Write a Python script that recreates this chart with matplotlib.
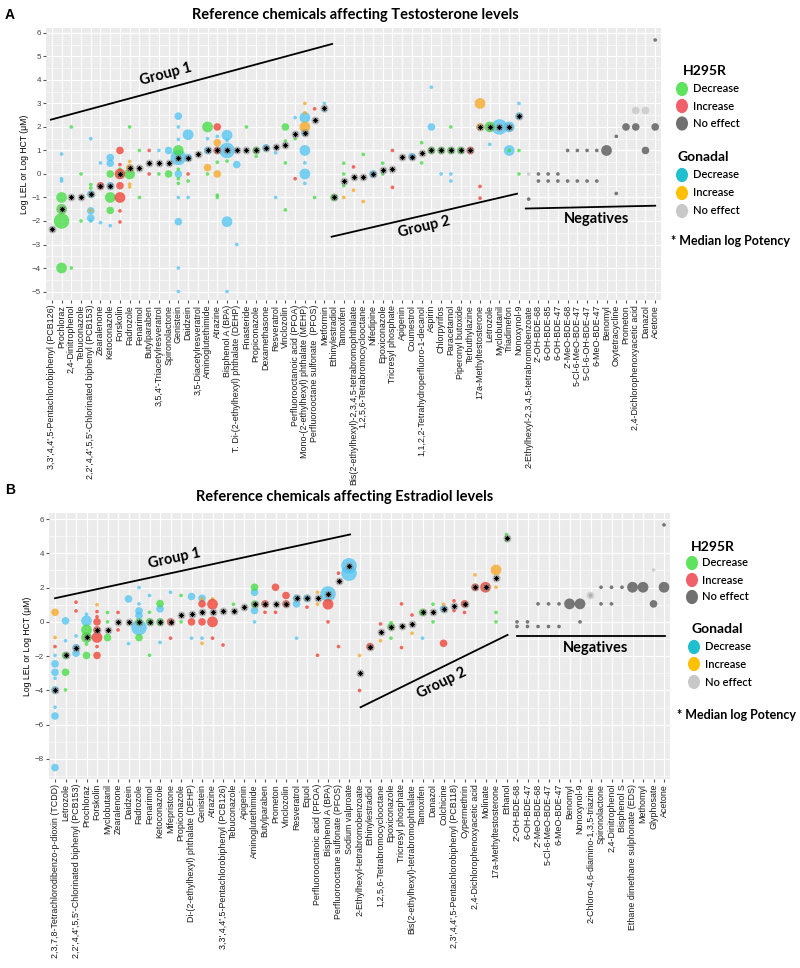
import matplotlib.pyplot as plt
from matplotlib.ticker import MultipleLocator

plt.rcParams['font.family'] = ['Liberation Sans', 'DejaVu Sans']
TITLE_FONT = ['Lato', 'DejaVu Sans']

# ---------------- data: panel A (testosterone) ----------------
a_chemicals = [
    "3,3',4,4',5-Pentachlorobiphenyl (PCB126)", "Prochloraz", "2,4-Dinitrophenol", "Tebuconazole",
    "2,2',4,4',5,5'-Chlorinated biphenyl (PCB153)", "Zearalenone", "Ketoconazole", "Forskolin",
    "Fadrozole", "Fenarimol", "Butylparaben", "3,5,4'-Triacetylresveratrol", "Spironolactone",
    "Genistein", "Daidzein", "3,5-Diacetylresveratrol", "Aminoglutethimide", "Atrazine",
    "Bisphenol A (BPA)", "T. Di-(2-ethylhexyl) phthalate (DEHP)", "Finasteride", "Propiconazole",
    "Dexamethasone", "Resveratrol", "Vinclozolin", "Perfluorooctanoic acid (PFOA)",
    "Mono-(2-ethylhexyl) phthalate (MEHP)", "Perfluorooctane sulfonate  (PFOS)", "Metformin",
    "Ethinylestradiol", "Tamoxifen", "Bis(2-ethylhexyl)-2,3,4,5-tetrabromophthalate",
    "1,2,5,6-Tetrabromocyclooctane", "Nifedipine", "Epoxiconazole", "Tricresyl phosphate",
    "Apigenin", "Coumestrol", "1,1,2,2-Tetrahydroperfluoro-1-decanol", "Aspirin", "Chlorpyrifos",
    "Paracetamol", "Piperonyl butoxide", "Terbuthylazine", "17a-Methyltestosterone", "Letrozole",
    "Myclobutanil", "Triadimefon", "Nonoxynol-9", "2-Ethylhexyl-2,3,4,5-tetrabromobenzoate",
    "2'-OH-BDE-68", "6-OH-BDE-85", "6-OH-BDE-47", "2'-MeO-BDE-68", "5-Cl-6-MeO-BDE-47",
    "5-Cl-6-OH-BDE-47", "6-MeO-BDE-47", "Benomyl", "Oxytetracycline", "Prometon",
    "2,4-Dichlorophenoxyacetic acid", "Danazol", "Acetone",
]

# (chemical position, log value, size class)
a_h295r_dec = [
    (2, -2, 4), (2, -1.5, 3), (2, -1, 3), (2, -4, 3), (3, 2, 1), (3, -4, 1), (4, 0, 1), (4, -2, 1),
    (5, -0.45, 1), (5, -0.6, 1), (7, 0, 2), (7, -1, 3), (7, -1.55, 2), (8, 0.2, 1), (9, 2, 1),
    (9, 0, 3), (10, 1, 1), (10, -1, 1), (12, 0, 1), (13, 0, 2), (14, 1, 3), (14, 0.2, 1),
    (14, -0.2, 1), (14, -0.4, 1), (15, -0.3, 1), (17, 2, 3), (17, 0, 1), (18, 0.5, 1),
    (18, -0.9, 1), (18, -1, 1), (19, 0.55, 1), (21, 2, 1), (22, 1, 2), (22, 0.75, 1),
    (25, 2, 2), (25, 1.4, 1), (25, 0.47, 1), (25, -1.53, 1), (26, 1.5, 1), (28, -1, 1),
    (30, -1, 2), (31, 0.46, 1), (31, 0, 1), (31, -0.5, 1), (33, 0.83, 1), (35, 0.46, 1),
    (35, 0, 1), (39, 1.33, 1), (39, 0.47, 1), (40, 1, 2), (41, 1, 2), (42, 1, 2), (42, 2, 1),
    (43, 1, 2), (46, 2, 3), (48, 1, 1), (49, 1, 1), (49, 0, 1),
]
a_h295r_inc = [
    (6, -0.5, 2), (8, 1, 2), (8, 0.4, 1), (8, 0, 3), (8, -0.5, 2), (8, -1, 3), (8, -1.57, 1),
    (8, -2.04, 1), (11, 1, 1), (11, 0, 1), (15, 0, 1), (18, 1, 2), (18, 2, 2), (26, -0.2, 1),
    (28, 2.77, 1), (32, 0.3, 1), (36, 1, 1), (36, -0.57, 1), (44, 1, 2), (45, -0.53, 1),
    (45, -1.03, 1),
]
a_h295r_none = [
    (50, -1.07, 1), (51, 0, 1), (51, -0.3, 1), (52, 0, 1), (52, -0.3, 1), (53, 0, 1),
    (53, -0.3, 1), (54, 1, 1), (54, -0.3, 1), (55, 1, 1), (55, -0.3, 1), (56, 1, 1),
    (56, -0.3, 1), (57, 1, 1), (57, -0.3, 1), (58, 1, 3), (59, 1.6, 1), (59, -0.83, 1),
    (60, 2, 2), (61, 2, 2), (62, 1, 2), (63, 2, 2), (63, 5.7, 1),
]
a_gonadal_dec = [
    (2, 0.85, 1), (2, -0.2, 1), (2, -0.3, 1), (5, 1.5, 1), (5, -0.86, 2), (5, -1.57, 2),
    (5, -1.88, 2), (5, -2.0, 1), (6, 0.47, 1), (6, -2.07, 1), (7, 0.7, 2), (7, 0.46, 2),
    (7, -0.5, 2), (7, -2.2, 1), (12, 1, 1), (13, 1, 2), (14, 0.7, 4), (14, 2.46, 2), (14, 2, 1),
    (14, 1.47, 1), (14, 0, 2), (14, -2.03, 2), (14, -1, 1), (14, -4, 1), (14, -5, 1),
    (15, 0.7, 2), (15, 1.67, 3), (15, -1, 1), (17, 1, 2), (17, 1.5, 1), (18, 1.6, 1),
    (19, 1, 4), (19, 1.65, 3), (19, -2.03, 3), (19, 1.43, 1), (19, -5, 1), (20, 0.4, 2),
    (20, -3, 1), (23, 1.11, 2), (24, 0.9, 1), (24, -1, 1), (26, 2.4, 1), (27, 2.4, 3),
    (27, 1.76, 2), (27, 1, 3), (27, 0, 3), (27, -0.4, 1), (27, 0.47, 1), (29, 3.0, 1),
    (29, 2.7, 1), (34, 0, 2), (38, 0.74, 2), (40, 3.69, 1), (40, 2.0, 2), (41, 0, 1),
    (42, 0, 1), (42, -0.3, 1), (46, 1.26, 1), (47, 2, 4), (48, 2, 3), (48, 1, 3),
    (49, 2.46, 2), (49, 3, 1),
]
a_gonadal_inc = [
    (5, -1.55, 1), (8, 0, 2), (9, 0.53, 1), (9, 0.26, 2), (9, -0.43, 1), (9, -0.55, 1),
    (17, 0.27, 2), (18, 1.33, 2), (18, 0, 2), (27, 2, 3), (27, 3, 1), (27, 2.6, 1),
    (31, -1, 1), (32, -0.69, 1), (33, -1.17, 1), (45, 2, 2), (45, 3, 3),
]
a_gonadal_none = [(50, 0, 1), (61, 2.7, 2), (62, 2.7, 2)]
a_median = [
    -2.35, -1.5, -1.0, -1.0, -0.86, -0.53, -0.5, 0, 0.26, 0.26, 0.46, 0.46, 0.46, 0.69, 0.7,
    0.83, 1.0, 1.0, 1.0, 1.0, 1.0, 1.0, 1.11, 1.13, 1.22, 1.7, 1.76, 2.29, 2.82, -1.0, -0.28,
    -0.15, -0.14, 0, 0.17, 0.21, 0.71, 0.74, 0.89, 1.0, 1.0, 1.0, 1.0, 1.03, 2.0, 2.0, 2.0,
    2.0, 2.46,
]

# ---------------- data: panel B (estradiol) ----------------
b_chemicals = [
    "2,3,7,8-Tetrachlorodibenzo-p-dioxin (TCDD)", "Letrozole",
    "2,2',4,4',5,5'-Chlorinated biphenyl (PCB153)", "Prochloraz", "Forskolin", "Myclobutanil",
    "Zearalenone", "Daidzein", "Fadrozole", "Fenarimol", "Ketoconazole", "Mifepristone",
    "Propiconazole", "Di-(2-ethylhexyl) phthalate (DEHP)", "Genistein", "Atrazine",
    "3,3',4,4',5-Pentachlorobiphenyl (PCB126)", "Tebuconazole", "Apigenin", "Aminoglutethimide",
    "Butylparaben", "Prometon", "Vinclozolin", "Resveratrol", "Equol",
    "Perfluorooctanoic acid (PFOA)", "Bisphenol A (BPA)", "Perfluorooctane sulfonate (PFOS)",
    "Sodium valproate", "2-Ethylhexyl-tetrabromobenzoate", "Ethinylestradiol",
    "1,2,5,6-Tetrabromocyclooctane", "Epoxiconazole", "Tricresyl phosphate",
    "Bis(2-ethylhexyl)-tetrabromophthalate", "Tamoxifen", "Danazol", "Colchicine",
    "2,3',4,4',5-Pentachlorobiphenyl (PCB118)", "Cypermethrin", "2,4-Dichlorophenoxyacetic acid",
    "Molinate", "17a-Methyltestosterone", "Ethanol", "2'-OH-BDE-68", "6-OH-BDE-47",
    "2'-MeO-BDE-68", "5-Cl-6-MeO-BDE-47", "6-MeO-BDE-47", "Benomyl", "Nonoxynol-9",
    "2-Chloro-4,6-diamino-1,3,5-triazine", "Spironolactone", "2,4-Dinitrophenol", "Bisphenol S",
    "Ethane dimethane sulphonate (EDS)", "Methomyl", "Glyphosate", "Acetone",
]
b_h295r_dec = [
    (2, -1.96, 2), (2, -2.94, 2), (2, -3.97, 1), (4, -0.47, 3), (4, -0.91, 3), (4, -1.96, 2),
    (4, -1.3, 1), (6, 0.55, 1), (6, 0, 1), (6, -0.92, 2), (9, 0, 2), (9, -0.92, 2),
    (10, 0.56, 1), (10, 0, 2), (10, -1.95, 1), (11, 1.07, 2), (11, 0, 2), (11, -0.14, 1),
    (13, 1.54, 1), (13, 0, 1), (18, 1.03, 1), (20, 2.02, 2), (20, 1.03, 2), (33, -0.05, 1),
    (33, -0.28, 2), (33, -0.95, 1), (36, 0.55, 2), (37, 1.03, 1), (37, 0, 1), (43, 0.55, 1),
    (43, 0, 1), (44, 5.1, 1), (44, 4.92, 1), (44, 4.75, 1),
]
b_h295r_inc = [
    (1, -1.44, 1), (3, 1.15, 1), (3, 0.64, 1), (5, 0.6, 1), (5, 0.3, 1), (5, 0, 2),
    (5, -0.47, 2), (5, -0.91, 3), (5, -1.44, 1), (5, -1.96, 2), (7, 0.55, 1), (7, -0.47, 1),
    (12, 0, 2), (12, -0.95, 1), (14, 0, 2), (15, 1.05, 2), (15, 0, 2), (16, 1.03, 3),
    (16, 0, 3), (16, -0.95, 1), (17, -1.35, 1), (21, 1.05, 2), (21, 0.56, 1), (22, 2.02, 2),
    (22, 0.56, 1), (23, 1.54, 2), (23, 1.05, 2), (25, 0.86, 1), (26, -1.95, 1), (27, 1.03, 3),
    (27, 0, 1), (28, 2.84, 1), (28, -1.44, 1), (30, -4.0, 1), (31, -1.44, 2), (32, -0.12, 1),
    (34, 1.05, 1), (34, -1.5, 1), (35, 0.4, 1), (38, -1.25, 2), (39, 1.23, 1), (39, 0.66, 1),
    (40, 1.05, 2), (40, 0.55, 1), (41, 2.02, 2), (42, 2.02, 3),
]
b_h295r_none = [
    (45, 0, 1), (45, -0.27, 1), (46, 0, 1), (46, -0.27, 1), (47, 1.05, 1), (47, -0.27, 1),
    (48, 1.05, 1), (48, -0.27, 1), (49, 1.05, 1), (49, -0.27, 1), (50, 1.05, 3), (51, 1.05, 3),
    (51, 0, 1), (52, 1.54, 1), (53, 2.02, 1), (53, 1.05, 1), (54, 2.02, 1), (54, 1.05, 1),
    (55, 2.02, 1), (56, 2.02, 3), (57, 2.02, 3), (58, 1.05, 2), (59, 2.02, 3), (59, 5.66, 1),
]
b_gonadal_dec = [
    (1, -1.96, 1), (1, -2.45, 2), (1, -2.94, 2), (1, -3.29, 1), (1, -3.97, 2), (1, -4.98, 1),
    (1, -5.49, 2), (1, -8.5, 2), (2, 0.06, 2), (2, -1.1, 1), (3, -0.82, 1), (3, -1.5, 2),
    (3, -1.83, 2), (4, 0.06, 3), (4, 0.45, 1), (8, 1.34, 2), (8, -1.27, 1), (9, 2.0, 1),
    (9, 1.05, 1), (9, 0.64, 2), (9, 0.37, 2), (9, -0.33, 4), (10, 1.54, 1), (11, 0.76, 2),
    (11, -1.2, 1), (12, 1.73, 1), (14, 1.48, 2), (14, -0.95, 1), (15, 1.38, 2),
    (15, -0.95, 1), (20, 1.73, 2), (20, 0.66, 2), (20, 0, 1), (24, 1.38, 2), (24, 1.05, 2),
    (24, -0.95, 1), (25, 1.38, 2), (27, 1.63, 4), (29, 3.27, 4), (29, 2.84, 4),
    (36, -0.95, 1), (38, 0.76, 2),
]
b_gonadal_inc = [
    (1, 0.56, 2), (1, -0.91, 1), (5, 1.0, 1), (15, 1.34, 1), (15, -1.25, 1), (16, 1.34, 1),
    (26, 1.73, 1), (26, 1.03, 1), (30, -1.96, 1), (32, -1.1, 1), (35, -0.66, 1), (38, 1.03, 1),
    (41, 2.74, 1), (43, 3.03, 3), (43, 2.02, 1),
]
b_gonadal_none = [(52, 1.54, 2), (58, 3.03, 1)]
b_median = [
    -3.97, -1.96, -1.5, -0.91, -0.47, -0.47, 0, 0, 0, 0, 0, 0, 0.4, 0.46, 0.55, 0.55, 0.66,
    0.66, 0.86, 1.03, 1.05, 1.05, 1.05, 1.38, 1.38, 1.38, 1.63, 2.39, 3.27, -3.0, -1.44, -0.6,
    -0.27, -0.23, -0.12, 0.55, 0.55, 0.76, 0.9, 1.05, 2.02, 2.02, 2.55, 4.92,
]

SIZES = {1: 7, 2: 30, 3: 60, 4: 125}
COLORS = {'h_dec': '#3fdc3f', 'h_inc': '#f03a2c', 'h_none': '#4d4d4d',
          'g_dec': '#4dc3f2', 'g_inc': '#f7a51c', 'g_none': '#c4c4c4'}
LEGEND_COLORS = ['#5ee35e', '#f0606a', '#707070', '#1fbfcf', '#ffc000', '#c8c8c8']


def draw_panel(ax, chemicals, series, medians, ylim, ymajor):
    n = len(chemicals)
    ax.set_facecolor('#EBEBEB')
    ax.set_xlim(0.4, n + 0.6)
    ax.set_ylim(*ylim)
    ax.set_xticks(range(1, n + 1))
    ax.set_xticklabels(chemicals, rotation=90, fontsize=6.4, color='#1a1a1a')
    ax.yaxis.set_major_locator(MultipleLocator(ymajor))
    ax.yaxis.set_minor_locator(MultipleLocator(ymajor / 2))
    ax.grid(which='major', color='white', lw=0.8)
    ax.grid(which='minor', axis='y', color='white', lw=0.4)
    ax.set_axisbelow(True)
    for s in ax.spines.values():
        s.set_visible(False)
    ax.tick_params(axis='both', length=2, color='#555555', pad=1.5)
    ax.tick_params(axis='y', labelsize=5.8, labelcolor='#444444')
    ax.tick_params(which='minor', length=0)
    ax.set_ylabel("Log LEL or Log HCT (\u03bcM)", fontsize=6.2, labelpad=2)

    for pts, key in series:
        ax.scatter([p[0] for p in pts], [p[1] for p in pts],
                   s=[SIZES[p[2]] for p in pts], color=COLORS[key],
                   alpha=0.75, lw=0, zorder=3)

    mx = range(1, len(medians) + 1)
    ax.scatter(mx, medians, s=34, color='#8c8c8c', alpha=0.5, lw=0, zorder=4)
    ax.scatter(mx, medians, s=11, marker=(8, 2, 0), color='black', lw=0.5, zorder=5)


def annotate(ax, x0, y0, x1, y1, label, tx, ty, rot):
    ax.plot([x0, x1], [y0, y1], color='black', lw=1.3, zorder=6)
    ax.text(tx, ty, label, rotation=rot, rotation_mode='anchor', ha='center', va='center',
            fontsize=10.5, fontweight='bold', family=TITLE_FONT, zorder=6)


def draw_legend(fig, x_head, y_head, x_dot, x_txt, ys, x_head2, y_head2, x_dot2, x_txt2, ys2,
                x_med, y_med):
    W, H = 800.0, 968.0
    kw = dict(family=TITLE_FONT, va='center')
    fig.text(x_head / W, 1 - y_head / H, 'H295R', fontsize=10, fontweight='bold', **kw)
    fig.text(x_head2 / W, 1 - y_head2 / H, 'Gonadal', fontsize=10, fontweight='bold', **kw)
    labels = ['Decrease', 'Increase', 'No effect']
    for k in range(3):
        fig.patches.append(plt.Circle((x_dot / W, 1 - ys[k] / H), 5.3 / W,
                                      transform=fig.transFigure, color=LEGEND_COLORS[k],
                                      figure=fig))
        fig.text(x_txt / W, 1 - ys[k] / H, labels[k], fontsize=8, fontweight='semibold', **kw)
        fig.patches.append(plt.Circle((x_dot2 / W, 1 - ys2[k] / H), 5.3 / W,
                                      transform=fig.transFigure, color=LEGEND_COLORS[k + 3],
                                      figure=fig))
        fig.text(x_txt2 / W, 1 - ys2[k] / H, labels[k], fontsize=8, fontweight='semibold', **kw)
    fig.text(x_med / W, 1 - y_med / H, '* Median log Potency', fontsize=9,
             fontweight='bold', **kw)


fig = plt.figure(figsize=(8, 9.68), dpi=100)

ax1 = fig.add_axes([0.0575, 0.6901, 0.7688, 0.2810])
draw_panel(ax1, a_chemicals,
           [(a_h295r_none, 'h_none'), (a_gonadal_none, 'g_none'), (a_gonadal_dec, 'g_dec'),
            (a_h295r_dec, 'h_dec'), (a_gonadal_inc, 'g_inc'), (a_h295r_inc, 'h_inc')],
           a_median, (-5.36, 6.21), 1)
annotate(ax1, 0.9, 2.31, 29.8, 5.53, 'Group 1', 12.7, 4.24, 15)
annotate(ax1, 29.75, -2.67, 48.8, -0.84, 'Group 2', 39.3, -2.26, 13.4)
annotate(ax1, 49.7, -1.47, 63.0, -1.35, 'Negatives', 57, -1.9, 0)

ax2 = fig.add_axes([0.0609, 0.1952, 0.7770, 0.2748])
draw_panel(ax2, b_chemicals,
           [(b_h295r_none, 'h_none'), (b_gonadal_none, 'g_none'), (b_gonadal_dec, 'g_dec'),
            (b_h295r_dec, 'h_dec'), (b_gonadal_inc, 'g_inc'), (b_h295r_inc, 'h_inc')],
           b_median, (-9.17, 6.35), 2)
annotate(ax2, 1.0, 1.38, 29.1, 5.1, 'Group 1', 12.4, 3.71, 12.2)
annotate(ax2, 30.1, -4.98, 44.1, -0.76, 'Group 2', 37.8, -3.6, 26)
annotate(ax2, 44.97, -0.82, 59.1, -0.82, 'Negatives', 52.5, -1.5, 0)

fig.text(0.444, 1 - 15 / 968, 'Reference chemicals affecting Testosterone levels',
         ha='center', va='center', fontsize=10.5, fontweight='bold', family=TITLE_FONT)
fig.text(0.431, 1 - 497 / 968, 'Reference chemicals affecting Estradiol levels',
         ha='center', va='center', fontsize=10.5, fontweight='bold', family=TITLE_FONT)
fig.text(0.006, 1 - 15 / 968, 'A', ha='left', va='center', fontsize=10, fontweight='bold')
fig.text(0.006, 1 - 490 / 968, 'B', ha='left', va='center', fontsize=10, fontweight='bold')

draw_legend(fig, 683, 71, 682, 693, [89, 106, 123.5], 678, 157, 682, 693, [175, 193, 211],
            671, 241)
draw_legend(fig, 691, 547, 692, 702, [563, 580, 597], 691, 629, 694, 705, [647, 664, 682],
            677, 715)

fig.savefig('out.png', dpi=100)
